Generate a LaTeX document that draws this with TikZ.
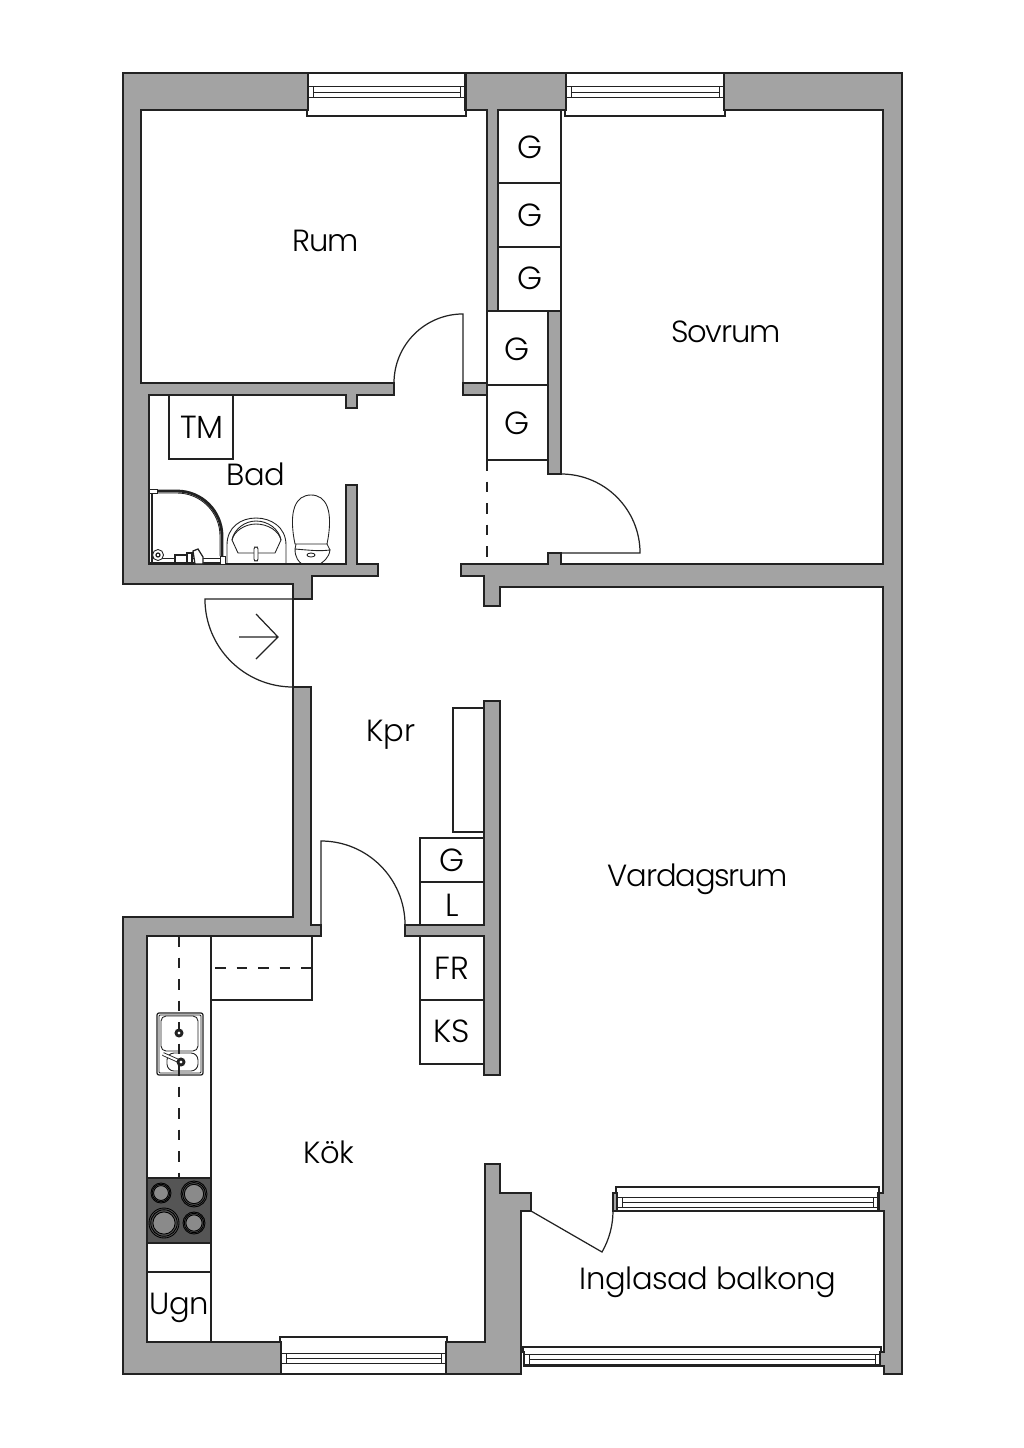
\documentclass[tikz,border=0pt]{standalone}
\usepackage{fontspec}
\setmainfont{Poppins Light}
\newfontfamily\tightfont[LetterSpace=-4]{Poppins Light}
\newfontfamily\looserfont[LetterSpace=-1.5]{Poppins Light}
\definecolor{wallgray}{HTML}{A3A3A3}
\definecolor{linegray}{HTML}{222222}
\definecolor{stovegray}{HTML}{555555}
\definecolor{plategray}{HTML}{8A8A8A}
\tikzset{
    wall/.style={draw=linegray,fill=wallgray,line width=0.45pt},
    fitting/.style={draw=linegray,line width=0.35pt},
    fine/.style={draw=linegray,line width=0.25pt},
    bold/.style={draw=linegray,line width=0.8pt},
    dashline/.style={draw=linegray,line width=0.35pt,dash pattern=on 0.105cm off 0.11cm},
    caplabel/.style={font=\fontsize{9.1}{11}\selectfont,text=black,inner sep=0pt},
    roomlabel/.style={font=\fontsize{8.7}{11}\selectfont\looserfont,text=black,inner sep=0pt},
    tightlabel/.style={font=\fontsize{8.7}{11}\selectfont\tightfont,text=black,inner sep=0pt},
}
% x1, x2, outer edge, wall face, sill edge, three frame lines
\newcommand{\hwindow}[8]{
    \draw[fitting,fill=white] (#1,#3) -- (#1,#4) -- (#1-1,#4) -- (#1-1,#5) -- (#2+1,#5) -- (#2+1,#4) -- (#2,#4) -- (#2,#3) -- cycle;
    \draw[fine] (#1,#6) -- (#2,#6) (#1+5,#7) -- (#2-5,#7) (#1,#8) -- (#2,#8);
    \draw[fine] (#1+5,#6) -- (#1+5,#8) (#2-5,#6) -- (#2-5,#8);
}
\begin{document}
\begin{tikzpicture}[x=0.01cm,y=-0.01cm]
    \useasboundingbox (0,0) rectangle (1024,1448);

    % Walls
    \draw[wall] (308,73) -- (123,73) -- (123,584) -- (293,584) -- (293,599) -- (312,599) -- (312,576) -- (378,576) -- (378,564) -- (357,564) -- (357,485) -- (346,485) -- (346,564) -- (149,564) -- (149,395) -- (346,395) -- (346,408) -- (357,408) -- (357,395) -- (394,395) -- (394,383) -- (141,383) -- (141,110) -- (308,110) -- cycle;
    \draw[wall] (466,73) -- (566,73) -- (566,110) -- (498,110) -- (498,311) -- (487,311) -- (487,110) -- (466,110) -- cycle;
    \draw[wall] (463,383) rectangle (487,395);
    \draw[wall] (548,311) rectangle (561,474);
    \draw[wall] (724,73) -- (902,73) -- (902,1374) -- (884,1374) -- (884,1366) -- (880,1366) -- (880,1352) -- (884,1352) -- (884,1211) -- (879,1211) -- (879,1193) -- (883,1193) -- (883,587) -- (500,587) -- (500,606) -- (484,606) -- (484,576) -- (461,576) -- (461,564) -- (548,564) -- (548,553) -- (561,553) -- (561,564) -- (883,564) -- (883,110) -- (724,110) -- cycle;
    \draw[wall] (123,917) -- (293,917) -- (293,687) -- (311,687) -- (311,925) -- (321,925) -- (321,936) -- (147,936) -- (147,1342) -- (281,1342) -- (281,1374) -- (123,1374) -- cycle;
    \draw[wall] (446,1342) -- (485,1342) -- (485,1164) -- (500,1164) -- (500,1193) -- (531,1193) -- (531,1211) -- (521,1211) -- (521,1374) -- (446,1374) -- cycle;
    \draw[wall] (484,701) -- (500,701) -- (500,1075) -- (484,1075) -- (484,936) -- (405,936) -- (405,925) -- (484,925) -- cycle;

    % Windows
    \hwindow{308}{465}{73}{110}{116}{86}{92}{97}
    \hwindow{566}{724}{73}{110}{116}{86}{92}{97}
    \hwindow{281}{446}{1374}{1342}{1337}{1353}{1358}{1363}
    \hwindow{617}{878}{1211}{1193}{1187}{1197}{1202}{1207}
    \hwindow{524}{880}{1366}{1352}{1347}{1354}{1359}{1364}
    \draw[bold] (617,1211) -- (878,1211);
    \draw[bold] (524,1366) -- (880,1366);
    \draw[wall] (613,1193) rectangle (617,1211);

    % Doors
    \draw[fitting] (394,383) arc[start angle=180,end angle=90,radius=0.69cm] -- (463,383);
    \draw[fitting] (561,474) arc[start angle=90,end angle=0,radius=0.79cm] -- (561,553);
    \draw[fitting] (293,687) arc[start angle=270,end angle=180,radius=0.88cm] -- (293,599);
    \draw[fitting] (293,584) -- (293,687);
    \draw[fitting] (239,637) -- (278,637) (256,614) -- (278,637) -- (256,659);
    \draw[fitting] (321,925) -- (321,841) arc[start angle=90,end angle=0,radius=0.84cm];
    \draw[fitting] (531,1211) -- (602,1252) arc[start angle=-30,end angle=0,radius=0.82cm];

    % Wardrobes and appliances
    \foreach \ya/\yb in {110/183,183/247,247/311}
        \draw[fitting] (498,\ya) rectangle (561,\yb);
    \foreach \ya/\yb in {311/385,385/460}
        \draw[fitting] (487,\ya) rectangle (548,\yb);
    \draw[dashline] (487,460) -- (487,564);
    \draw[fitting] (169,395) rectangle (233,459);
    \draw[fitting] (453,708) rectangle (484,832);
    \foreach \ya/\yb in {838/882,882/925,936/1000,1000/1064}
        \draw[fitting] (420,\ya) rectangle (484,\yb);

    % Kitchen
    \draw[fitting] (211,936) -- (211,1342);
    \draw[fitting] (147,1272) -- (211,1272);
    \draw[fitting] (211,1000) -- (312,1000) -- (312,936);
    \draw[dashline] (215,968) -- (312,968);
    \draw[fitting,fill=stovegray] (147,1178) rectangle (211,1243);
    \foreach \cx/\cy/\r in {161/1193/10,194/1194/13,164/1223/15,194/1223/11} {
        \draw[fine,draw=black,fill=stovegray] (\cx,\cy) circle[radius=\r*0.01cm];
        \draw[fine,draw=black] (\cx,\cy) circle[radius=\r*0.0088cm];
        \draw[fine,draw=black,fill=plategray] (\cx,\cy) circle[radius=\r*0.0074cm];
    }
    % Sink
    \draw[fitting,fill=white,rounded corners=0.02cm] (157,1013) rectangle (203,1075);
    \draw[fine,rounded corners=0.01cm] (159,1015) rectangle (201,1073);
    \draw[fine,rounded corners=0.05cm] (161,1016) rectangle (198,1051);
    \draw[fine,rounded corners=0.07cm] (167,1053) rectangle (198,1071);
    \draw[dashline] (179,936) -- (179,1178);
    \draw[bold,fill=white] (179,1033) circle[radius=0.03cm];
    \draw[fine,double=white,double distance=0.02cm] (163,1054) -- (181,1062);
    \draw[bold,fill=white] (181,1062) circle[radius=0.03cm];

    % Bathroom
    \draw[fitting] (152,490) -- (152,562);
    \draw[fine] (149,493) -- (152,493) (149,562) -- (222,562) (152,558) -- (222,558);
    \draw[fine,fill=white] (149,489) rectangle (157,493);
    \draw[bold] (157,491) -- (177,491) arc[start angle=90,end angle=0,radius=0.45cm] -- (222,556);
    \draw[fine] (157,493) -- (177,493) arc[start angle=90,end angle=0,radius=0.43cm] -- (220,556);
    \draw[fine,fill=white] (220,556) rectangle (225,564);
    \draw[fine,fill=white] (158,555) circle[radius=0.055cm];
    \draw[fitting] (158,555) circle[radius=0.02cm];
    \draw[fitting,fill=white] (175,555) rectangle (187,563);
    \draw[fitting,fill=white] (187,553) rectangle (192,563);
    \draw[fitting,fill=white] (193,551) -- (198,549) -- (203,557) -- (203,564) -- (195,564) -- cycle;
    \draw[fine] (227,564) -- (227,545) .. controls (227,527) and (241,518) .. (256,518) .. controls (271,518) and (286,527) .. (286,545) -- (286,564);
    \draw[fine] (232,540) .. controls (234,529) and (245,521) .. (256,521) .. controls (268,521) and (279,529) .. (281,540) -- (275,553) -- (238,553) -- cycle;
    \draw[fine] (232,540) .. controls (234,531) and (245,524) .. (256,524) .. controls (268,524) and (279,531) .. (281,540);
    \draw[fine,fill=white,rounded corners=0.02cm] (254,547) rectangle (258,561);
    \draw[fine] (295,544) .. controls (288,510) and (296,495) .. (311,495) .. controls (326,495) and (334,510) .. (327,544) -- cycle;
    \draw[fine] (295,549) -- (296,544) (327,544) -- (330,550);
    \draw[fine] (295,549) .. controls (318,551) and (320,551) .. (330,550) .. controls (329,558) and (323,562) .. (320,564) -- (302,564) .. controls (299,562) and (295,558) .. (295,549);
    \draw[fine] (311,555) ellipse[x radius=0.04cm,y radius=0.02cm];

    % Labels
    \node[tightlabel] (rum) at (326,241) {Rum};
    \node[tightlabel] (sovrum) at (726,332) {Sovrum};
    \node[caplabel] (tm) at (202,427) {TM};
    \node[roomlabel] (bad) at (256,474) {Bad};
    \node[roomlabel] (kpr) at (391,735) {Kpr};
    \node[tightlabel] (vardagsrum) at (698,879) {Vardagsrum};
    \node[roomlabel] (kok) at (329,1152) {Kök};
    \node[roomlabel] (ugn) at (179,1308) {Ugn};
    \node[roomlabel] (balkong) at (708,1282) {Inglasad balkong};
    \node[caplabel] (ga) at (530,147) {G};
    \node[caplabel] (gb) at (530,215) {G};
    \node[caplabel] (gc) at (530,278) {G};
    \node[caplabel] (gd) at (517,349) {G};
    \node[caplabel] (ge) at (517,423) {G};
    \node[caplabel] (gf) at (452,860) {G};
    \node[caplabel] (l) at (452,905) {L};
    \node[caplabel] (fr) at (452,968) {FR};
    \node[caplabel] (ks) at (452,1031) {KS};
\end{tikzpicture}
\end{document}
